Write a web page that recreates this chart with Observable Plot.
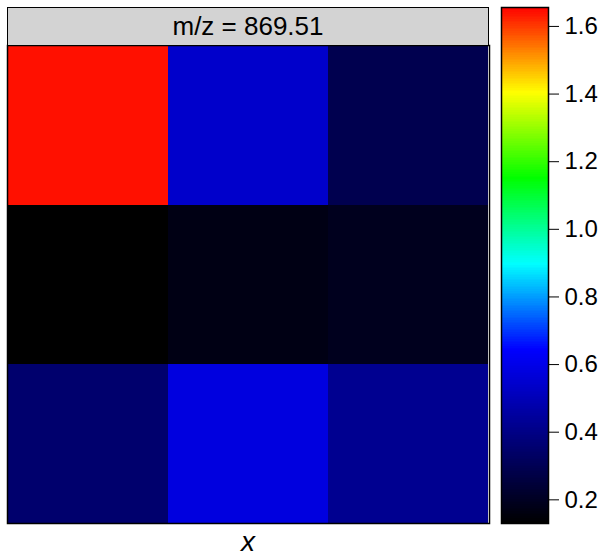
<!DOCTYPE html>
<html>
<head>
<meta charset="utf-8">
<script src="https://cdn.jsdelivr.net/npm/d3@7"></script>
<script src="https://cdn.jsdelivr.net/npm/@observablehq/plot@0.6"></script>
<style>
  html, body { margin: 0; padding: 0; background: #fff; }
  #wrap { position: relative; width: 611px; height: 559px; font-family: "Liberation Sans", Arial, sans-serif; }
  #wrap svg { position: absolute; top: 0; }
  #strip { position: absolute; left: 7px; top: 7px; width: 482px; height: 39px; box-sizing: border-box;
           background: #d3d3d3; border: 1.5px solid #000; text-align: center; font-size: 26px; line-height: 36px; color: #000; }
  #xlab { position: absolute; left: 7px; width: 482px; top: 526px; text-align: center; font-size: 28px; font-style: italic; line-height: 32px; }
</style>
</head>
<body>
<div id="wrap"></div>
<script>
// ---- data ----
const title = "m/z = 869.51";
const xLabel = "x";
const cols = [1, 2, 3];
const rows = [1, 2, 3]; // top to bottom
const row1 = [1.64, 0.54, 0.29];
const row2 = [0.13, 0.17, 0.19];
const row3 = [0.35, 0.58, 0.42];
const colorTicks = [0.2, 0.4, 0.6, 0.8, 1.0, 1.2, 1.4, 1.6];
const valueMin = 0.13;
const valueMax = 1.656;
const stopValues = [0.13, 0.644, 0.897, 1.15, 1.403, 1.656];
const stopColors = ["#000000", "#0000ff", "#00ffff", "#00ff00", "#ffff00", "#ff0000"];

const grid = [row1, row2, row3];
const cells = [];
rows.forEach((r, i) => cols.forEach((c, j) => cells.push({row: r, col: c, value: grid[i][j]})));

const colorScale = {type: "linear", domain: stopValues, range: stopColors, interpolate: "rgb", clamp: true};

const wrap = document.getElementById("wrap");

const heat = Plot.plot({
  width: 611, height: 559,
  marginLeft: 7, marginRight: 122, marginTop: 45, marginBottom: 36,
  x: {type: "band", domain: cols, padding: 0, axis: null},
  y: {type: "band", domain: rows, padding: 0, axis: null},
  color: colorScale,
  style: {background: "transparent"},
  marks: [
    Plot.cell(cells, {x: "col", y: "row", fill: "value", inset: 0, shapeRendering: "crispEdges"}),
    Plot.frame({stroke: "#000", strokeWidth: 1.5})
  ]
});
heat.style.left = "0px";
wrap.appendChild(heat);

const n = 300;
const step = (valueMax - valueMin) / n;
const slices = d3.range(n).map(i => ({y1: valueMin + i * step, y2: valueMin + (i + 1) * step, v: valueMin + (i + 0.5) * step}));

const bar = Plot.plot({
  width: 110, height: 559,
  marginLeft: 0, marginRight: 63, marginTop: 7, marginBottom: 36,
  x: {domain: [0, 1], axis: null},
  y: {domain: [valueMin, valueMax], axis: "right", ticks: colorTicks, tickFormat: d3.format(".1f"), tickSize: 10, tickPadding: 6, label: null},
  color: colorScale,
  style: {fontSize: "24px", fontFamily: "Liberation Sans, Arial, sans-serif", background: "transparent", color: "#000"},
  marks: [
    Plot.rect(slices, {x1: 0, x2: 1, y1: "y1", y2: "y2", fill: "v", shapeRendering: "crispEdges"}),
    Plot.frame({stroke: "#000", strokeWidth: 1.5})
  ]
});
bar.style.left = "501px";
bar.style.overflow = "visible";
wrap.appendChild(bar);

const strip = document.createElement("div");
strip.id = "strip";
strip.textContent = title;
wrap.appendChild(strip);

const xl = document.createElement("div");
xl.id = "xlab";
xl.textContent = xLabel;
wrap.appendChild(xl);
</script>
</body>
</html>
